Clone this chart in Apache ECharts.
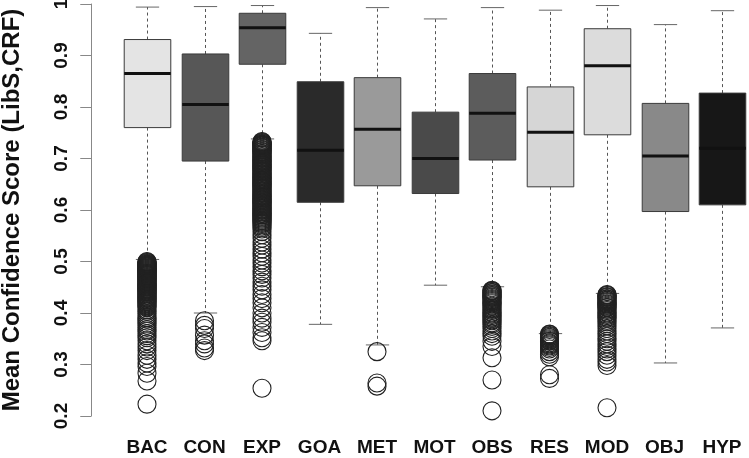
<!DOCTYPE html>
<html><head><meta charset="utf-8">
<script src="https://cdn.jsdelivr.net/npm/echarts@6/dist/echarts.min.js"></script>
<style>html,body{margin:0;padding:0;background:#fff}#c{width:749px;height:458px}</style>
</head><body><div id="c"></div>
<script>
const categories = ['BAC','CON','EXP','GOA','MET','MOT','OBS','RES','MOD','OBJ','HYP'];
const whiskerLow  = [0.504, 0.400, 0.738, 0.378, 0.338, 0.454, 0.451, 0.360, 0.438, 0.303, 0.371];
const quart1      = [0.760, 0.695, 0.883, 0.615, 0.647, 0.632, 0.697, 0.645, 0.746, 0.597, 0.610];
const medians     = [0.865, 0.805, 0.954, 0.716, 0.757, 0.700, 0.788, 0.751, 0.880, 0.705, 0.720];
const quart3      = [0.931, 0.903, 0.982, 0.849, 0.857, 0.790, 0.865, 0.839, 0.952, 0.807, 0.827];
const whiskerHigh = [0.994, 0.995, 0.997, 0.943, 0.993, 0.971, 0.993, 0.988, 0.997, 0.960, 0.987];

const outBAC = [0.500,0.499,0.498,0.497,0.496,0.495,0.494,0.493,0.492,0.491,0.490,0.489,0.488,0.487,0.486,0.485,0.484,0.483,0.482,0.481,0.480,0.479,0.478,0.477,0.476,0.475,0.474,0.473,0.472,0.471,0.470,0.469,0.468,0.467,0.466,0.465,0.464,0.462,0.461,0.460,0.458,0.457,0.456,0.455,0.453,0.452,0.451,0.450,0.448,0.447,0.446,0.445,0.443,0.442,0.441,0.440,0.438,0.437,0.435,0.434,0.432,0.431,0.429,0.428,0.426,0.425,0.423,0.422,0.420,0.418,0.416,0.414,0.412,0.410,0.406,0.403,0.399,0.395,0.391,0.388,0.384,0.380,0.376,0.372,0.368,0.365,0.360,0.356,0.352,0.346,0.340,0.334,0.327,0.318,0.310,0.303,0.296,0.283,0.268,0.223];
const outCON = [0.385,0.376,0.370,0.357,0.346,0.340,0.332,0.327];
const outEXP = [0.733,0.732,0.731,0.730,0.729,0.728,0.727,0.726,0.725,0.724,0.722,0.721,0.720,0.718,0.717,0.716,0.714,0.713,0.712,0.710,0.709,0.707,0.706,0.704,0.703,0.701,0.700,0.698,0.697,0.695,0.694,0.692,0.691,0.689,0.688,0.686,0.685,0.683,0.682,0.680,0.679,0.677,0.676,0.674,0.673,0.671,0.670,0.668,0.667,0.665,0.664,0.662,0.661,0.659,0.658,0.656,0.655,0.653,0.652,0.650,0.649,0.647,0.646,0.644,0.643,0.641,0.640,0.638,0.637,0.635,0.633,0.632,0.630,0.629,0.627,0.626,0.624,0.623,0.621,0.620,0.618,0.617,0.615,0.614,0.612,0.611,0.609,0.608,0.606,0.605,0.603,0.602,0.600,0.599,0.597,0.596,0.594,0.593,0.591,0.590,0.588,0.586,0.584,0.582,0.580,0.578,0.576,0.574,0.572,0.569,0.566,0.563,0.558,0.552,0.545,0.538,0.532,0.524,0.517,0.510,0.503,0.497,0.490,0.482,0.475,0.468,0.460,0.452,0.445,0.436,0.428,0.420,0.410,0.400,0.390,0.382,0.372,0.362,0.352,0.346,0.254];
const outGOA = [];
const outMET = [0.325,0.264,0.258];
const outMOT = [];
const outOBS = [0.444,0.443,0.442,0.440,0.439,0.437,0.436,0.434,0.433,0.431,0.430,0.428,0.426,0.424,0.422,0.420,0.418,0.415,0.413,0.410,0.407,0.405,0.402,0.400,0.397,0.395,0.392,0.390,0.387,0.385,0.381,0.378,0.374,0.370,0.365,0.360,0.355,0.345,0.335,0.313,0.270,0.210];
const outRES = [0.359,0.358,0.356,0.355,0.353,0.352,0.350,0.348,0.346,0.345,0.342,0.340,0.338,0.336,0.333,0.330,0.325,0.320,0.315,0.280,0.273];
const outMOD = [0.436,0.435,0.434,0.432,0.431,0.430,0.428,0.427,0.425,0.424,0.422,0.420,0.418,0.417,0.415,0.413,0.411,0.410,0.407,0.405,0.402,0.400,0.397,0.395,0.392,0.390,0.386,0.383,0.379,0.375,0.370,0.365,0.360,0.355,0.350,0.345,0.340,0.335,0.330,0.325,0.318,0.310,0.305,0.298,0.216];
const outOBJ = [];
const outHYP = [];
const yTicks = [0.2,0.3,0.4,0.5,0.6,0.7,0.8,0.9,1];

const boxFills = ['#e4e4e4','#575757','#646464','#2a2a2a','#9a9a9a','#4a4a4a','#5c5c5c','#d6d6d6','#dcdcdc','#898989','#171717'];
const outlierLists = [outBAC,outCON,outEXP,outGOA,outMET,outMOT,outOBS,outRES,outMOD,outOBJ,outHYP];

const boxData = categories.map((c,i)=>[i, whiskerLow[i], quart1[i], medians[i], quart3[i], whiskerHigh[i]]);
const outData = [];
outlierLists.forEach((arr,i)=>arr.forEach(v=>outData.push([i,v])));

function renderBox(params, api){
  const i = api.value(0);
  const lo = api.coord([i, api.value(1)]);
  const b1 = api.coord([i, api.value(2)]);
  const md = api.coord([i, api.value(3)]);
  const b3 = api.coord([i, api.value(4)]);
  const hi = api.coord([i, api.value(5)]);
  const band = api.size([1,0])[0];
  const bw = band*0.81, cw = bw*0.5;
  const x = Math.round(lo[0])+0.5;
  const dash = {stroke:'#555',lineWidth:1,lineDash:[3,3]};
  const solid = {stroke:'#666',lineWidth:1};
  return {type:'group', children:[
    {type:'line', shape:{x1:x,y1:b1[1],x2:x,y2:lo[1]}, style:dash},
    {type:'line', shape:{x1:x,y1:b3[1],x2:x,y2:hi[1]}, style:dash},
    {type:'line', shape:{x1:x-cw/2,y1:lo[1],x2:x+cw/2,y2:lo[1]}, style:solid},
    {type:'line', shape:{x1:x-cw/2,y1:hi[1],x2:x+cw/2,y2:hi[1]}, style:solid},
    {type:'rect', shape:{x:x-bw/2,y:b3[1],width:bw,height:b1[1]-b3[1]}, style:{fill:boxFills[params.dataIndex],stroke:'#3a3a3a',lineWidth:1}},
    {type:'line', shape:{x1:x-bw/2,y1:md[1],x2:x+bw/2,y2:md[1]}, style:{stroke:'#111',lineWidth:3}}
  ]};
}

const chart = echarts.init(document.getElementById('c'), null, {renderer:'canvas'});
chart.setOption({
  animation:false,
  backgroundColor:'#fff',
  grid:{left:118.25, top:4, width:632.5, height:412, containLabel:false, outerBoundsMode:'none'},
  xAxis:{type:'category', data:categories, boundaryGap:true,
    axisLine:{show:false}, axisTick:{show:false}, splitLine:{show:false},
    axisLabel:{fontSize:19, fontWeight:'bold', color:'#111', fontFamily:'Liberation Sans', margin:22, interval:0}},
  yAxis:{type:'value', min:0.2, max:1, interval:0.1, offset:27,
    axisLine:{show:true, lineStyle:{color:'#888', width:1}},
    axisTick:{show:true, length:11, lineStyle:{color:'#888'}},
    splitLine:{show:false},
    axisLabel:{rotate:90, fontSize:19, fontWeight:'bold', color:'#111', fontFamily:'Liberation Sans', margin:20,
      formatter:v=>{const r=Math.round(v*10)/10; return yTicks.indexOf(r)>=0 ? String(r) : '';}},
    name:'Mean Confidence Score (LibS,CRF)', nameLocation:'middle', nameRotate:90, nameGap:67,
    nameTextStyle:{fontSize:24, fontWeight:'bold', color:'#111', fontFamily:'Liberation Sans'}},
  series:[
    {type:'custom', renderItem:renderBox, data:boxData, encode:{x:0, y:[1,2,3,4,5]}, z:2},
    {type:'scatter', data:outData, symbol:'circle', symbolSize:18, clip:false, z:3,
      itemStyle:{color:'rgba(0,0,0,0)', borderColor:'#222', borderWidth:1.1, opacity:1}}
  ]
});
</script></body></html>
